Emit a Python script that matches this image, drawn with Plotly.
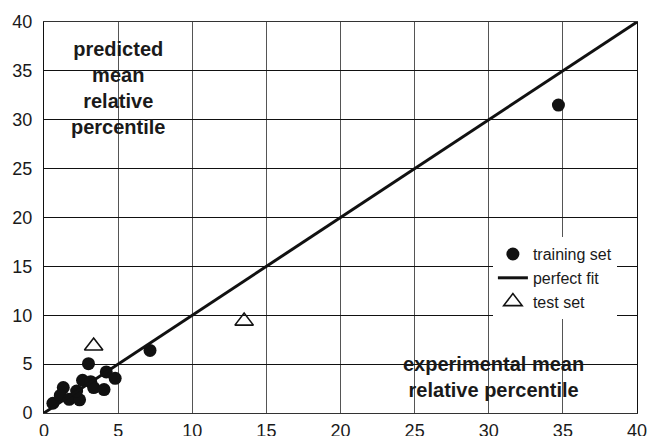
import plotly.graph_objects as go

# training set (experimental, predicted)
train_x = [0.6, 1.3, 1.1, 1.7, 2.4, 2.2, 2.6, 3.0, 3.15, 3.35, 4.05, 4.2, 4.8, 7.15, 34.7]
train_y = [1.0, 2.6, 1.8, 1.4, 1.35, 2.25, 3.35, 5.05, 3.2, 2.6, 2.4, 4.2, 3.55, 6.4, 31.5]
# test set
test_x = [3.35, 13.5]
test_y = [6.85, 9.4]
# perfect fit
fit_x = [0, 40]
fit_y = [0, 40]
ticks = [0, 5, 10, 15, 20, 25, 30, 35, 40]

fig = go.Figure()
fig.add_trace(go.Scatter(x=train_x, y=train_y, mode="markers", name="training set",
                         marker=dict(symbol="circle", size=13, color="#111111")))
fig.add_trace(go.Scatter(x=fit_x, y=fit_y, mode="lines", name="perfect fit",
                         line=dict(color="#111111", width=3)))
fig.add_trace(go.Scatter(x=test_x, y=test_y, mode="markers", name="test set",
                         marker=dict(symbol="triangle-up-open", size=16, color="#111111",
                                     line=dict(width=1.6, color="#111111"))))

fig.update_layout(
    width=656, height=436,
    margin=dict(l=44, r=19, t=22, b=23),
    paper_bgcolor="white", plot_bgcolor="white",
    font=dict(family="Liberation Sans, Arial, sans-serif", color="#1a1a1a"),
    showlegend=True,
    legend=dict(x=0.757, y=0.345, xanchor="left", yanchor="middle",
                bgcolor="white", borderwidth=0,
                font=dict(size=16, color="#1a1a1a"),
                tracegroupgap=0, itemwidth=30),
    xaxis=dict(range=[0, 40], tickvals=ticks, showgrid=True, gridcolor="#555555", gridwidth=1,
               zeroline=False, showline=True, linecolor="#333333", linewidth=1, mirror=True,
               tickfont=dict(size=18), ticks="", ticklabelstandoff=1, automargin=False),
    yaxis=dict(range=[0, 40], tickvals=ticks, showgrid=True, gridcolor="#111111", gridwidth=1,
               zeroline=False, showline=True, linecolor="#111111", linewidth=1, mirror=True,
               tickfont=dict(size=18), ticks="", ticklabelstandoff=7, automargin=False),
    annotations=[
        dict(x=5, y=38.6, xref="x", yref="y",
             text="<b>predicted</b><br><b>mean</b><br><b>relative</b><br><b>percentile</b>",
             showarrow=False, font=dict(size=20, color="#1a1a1a"), align="center",
             xanchor="center", yanchor="top"),
        dict(x=30.35, y=6.35, xref="x", yref="y",
             text="<b>experimental mean</b><br><b>relative percentile</b>",
             showarrow=False, font=dict(size=20, color="#1a1a1a"), align="center",
             xanchor="center", yanchor="top"),
    ],
)

fig.write_html("out.html", config={"displayModeBar": False},
               post_script="document.body.style.margin='0';")
